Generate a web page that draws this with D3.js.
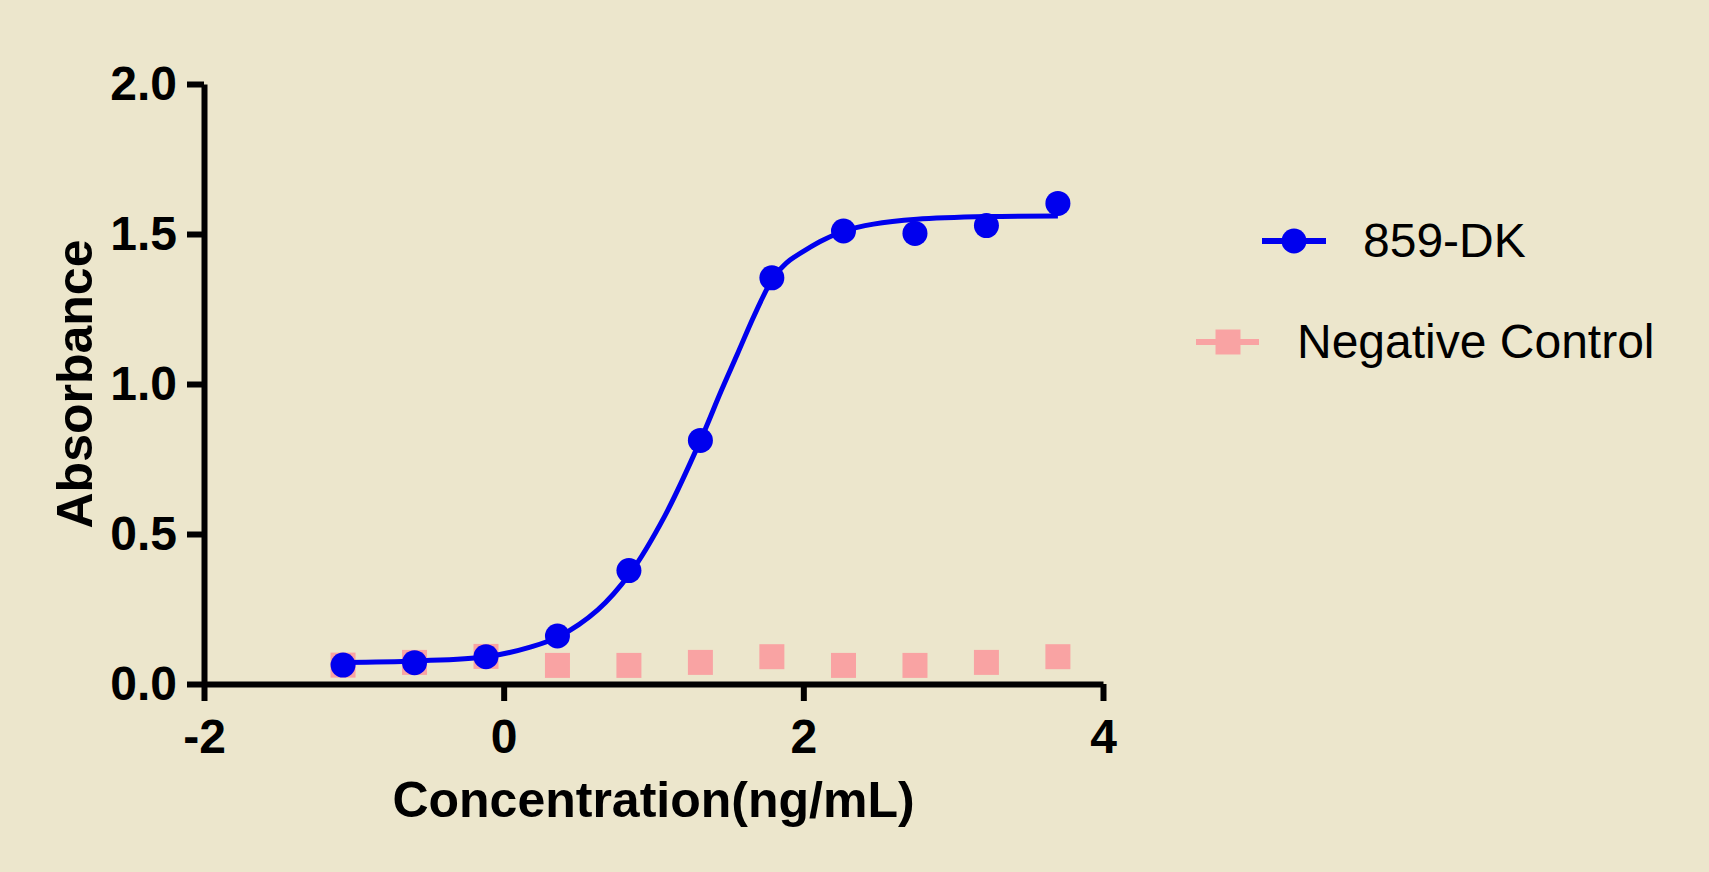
<!DOCTYPE html>
<html>
<head>
<meta charset="utf-8">
<script src="https://cdn.jsdelivr.net/npm/d3@7"></script>
<style>
  body { margin: 0; background: #ece6cc; }
  svg { display: block; }
</style>
</head>
<body>
<svg id="chart"></svg>
<script>
// log10 concentration for each dilution
const logConc = [-1.072, -0.595, -0.118, 0.359, 0.836, 1.313, 1.790, 2.268, 2.745, 3.222, 3.699]
const dk859 = [0.063, 0.071, 0.091, 0.160, 0.378, 0.812, 1.354, 1.510, 1.502, 1.528, 1.602]
const negControl = [0.063, 0.072, 0.092, 0.062, 0.062, 0.072, 0.091, 0.062, 0.062, 0.072, 0.091]

// fitted curve
const fitX = [-1.072, -0.585, -0.111, 0.183, 0.368, 0.628, 0.844, 1.073, 1.313, 1.45, 1.56, 1.66, 1.73, 1.796, 1.86, 1.911, 2.022, 2.133, 2.272, 2.468, 2.758, 3.232, 3.699]
const fitY = [0.072, 0.077, 0.091, 0.124, 0.158, 0.247, 0.369, 0.558, 0.812, 0.975, 1.100, 1.215, 1.290, 1.352, 1.390, 1.413, 1.449, 1.480, 1.510, 1.533, 1.549, 1.558, 1.560]

const xTicks = [-2, 0, 2, 4]
const yTicks = [0, 0.5, 1, 1.5, 2]
const seriesNames = ['859-DK', 'Negative Control']

const width = 1709, height = 872
const blue = '#0000ee', pink = '#f9a3a3'
const font = '"Liberation Sans", Arial, sans-serif'

const svg = d3.select('#chart')
  .attr('width', width)
  .attr('height', height)
  .style('font-family', font)

svg.append('rect')
  .attr('width', width)
  .attr('height', height)
  .attr('fill', '#ece6cc')

// scales
const x = d3.scaleLinear().domain([-2, 4]).range([204, 1103])
const y = d3.scaleLinear().domain([0, 2]).range([684, 84])

// y axis
const yAxis = svg.append('g')
  .attr('transform', `translate(${x(-2)},0)`)
  .call(d3.axisLeft(y).tickValues(yTicks).tickFormat(d3.format('.1f'))
    .tickSize(17).tickSizeOuter(0).tickPadding(10))
yAxis.selectAll('path, line').attr('stroke', '#000').attr('stroke-width', 6)
yAxis.selectAll('text')
  .attr('font-size', 48).attr('font-weight', 'bold').attr('fill', '#000')
  .attr('font-family', font)

// x axis
const xAxis = svg.append('g')
  .attr('transform', `translate(0,${y(0)})`)
  .call(d3.axisBottom(x).tickValues(xTicks).tickFormat(d3.format('d'))
    .tickSize(17).tickSizeOuter(0).tickPadding(18))
xAxis.selectAll('path, line').attr('stroke', '#000').attr('stroke-width', 6)
xAxis.selectAll('text')
  .attr('font-size', 48).attr('font-weight', 'bold').attr('fill', '#000')
  .attr('font-family', font)
  .text(d => d < 0 ? '-' + Math.abs(d) : d)

// axis titles
svg.append('text')
  .attr('x', (x(-2) + x(4)) / 2)
  .attr('y', 817)
  .attr('text-anchor', 'middle')
  .attr('font-size', 50)
  .attr('font-weight', 'bold')
  .text('Concentration(ng/mL)')

svg.append('text')
  .attr('transform', `translate(92,${(y(0) + y(2)) / 2}) rotate(-90)`)
  .attr('text-anchor', 'middle')
  .attr('font-size', 50)
  .attr('font-weight', 'bold')
  .text('Absorbance')

// negative control squares
svg.append('g')
  .selectAll('rect')
  .data(negControl)
  .join('rect')
  .attr('x', (d, i) => x(logConc[i]) - 12.5)
  .attr('y', d => y(d) - 12.5)
  .attr('width', 25)
  .attr('height', 25)
  .attr('fill', pink)

// fitted curve
const fit = fitX.map((v, i) => [v, fitY[i]])
const line = d3.line()
  .x(d => x(d[0]))
  .y(d => y(d[1]))
  .curve(d3.curveCatmullRom.alpha(0.5))

svg.append('path')
  .datum(fit)
  .attr('d', line)
  .attr('fill', 'none')
  .attr('stroke', blue)
  .attr('stroke-width', 5)

// 859-DK points
svg.append('g')
  .selectAll('circle')
  .data(dk859)
  .join('circle')
  .attr('cx', (d, i) => x(logConc[i]))
  .attr('cy', d => y(d))
  .attr('r', 12.5)
  .attr('fill', blue)

// legend
const legend = svg.append('g')

legend.append('line')
  .attr('x1', 1262).attr('x2', 1326)
  .attr('y1', 241).attr('y2', 241)
  .attr('stroke', blue).attr('stroke-width', 6)
legend.append('circle')
  .attr('cx', 1294).attr('cy', 241).attr('r', 12.5)
  .attr('fill', blue)
legend.append('text')
  .attr('x', 1363).attr('y', 257)
  .attr('font-size', 48)
  .text(seriesNames[0])

legend.append('line')
  .attr('x1', 1196).attr('x2', 1259)
  .attr('y1', 342).attr('y2', 342)
  .attr('stroke', pink).attr('stroke-width', 6)
legend.append('rect')
  .attr('x', 1215.5).attr('y', 329.5)
  .attr('width', 25).attr('height', 25)
  .attr('fill', pink)
legend.append('text')
  .attr('x', 1297).attr('y', 358)
  .attr('font-size', 48)
  .text(seriesNames[1])
</script>
</body>
</html>
